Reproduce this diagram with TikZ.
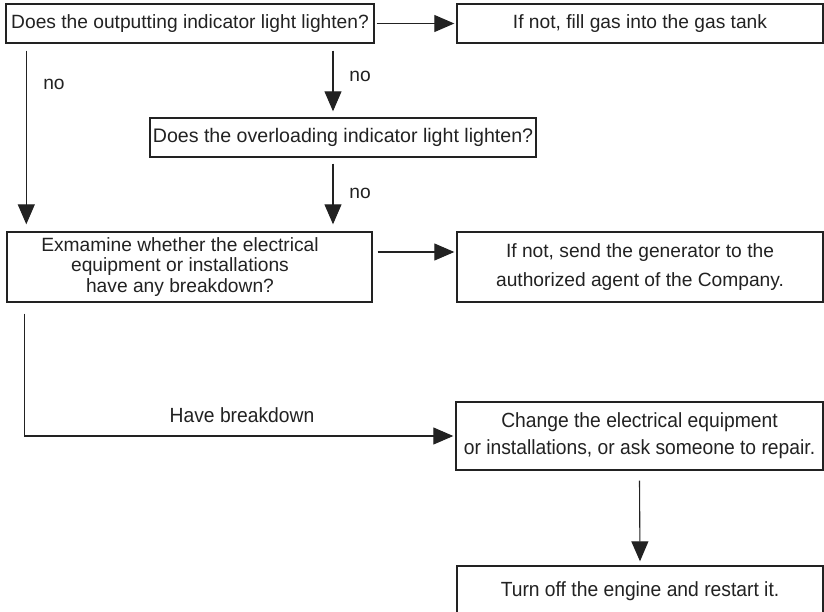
\documentclass[tikz,border=0pt]{standalone}
\usepackage{fontspec}
\setmainfont{Liberation Sans}
\newfontfamily\condfont[FakeStretch=0.94]{Liberation Sans}
\usetikzlibrary{arrows.meta}
\definecolor{ink}{HTML}{222222}
\begin{document}
\begin{tikzpicture}[x=1pt,y=-1pt,
  box/.style={draw=ink,line width=1.4pt,inner sep=0pt,text=ink,align=center,
    font=\fontsize{19.2}{20.5}\selectfont},
  txt/.style={inner sep=0pt,text=ink,align=center,font=\fontsize{19.2}{20.5}\selectfont},
  ctxt/.style={inner sep=0pt,text=ink,align=center,font=\condfont\fontsize{20.5}{27}\selectfont},
  arr/.style={draw=ink,line width=1.1pt,-{Triangle[length=20pt,width=17pt]}}]
\useasboundingbox (0,0) rectangle (824,611);
\fill[white] (0,0) rectangle (824,611);
% boxes
\node[box,minimum width=368pt,minimum height=39pt] (A) at (190,23.5) {Does the outputting indicator light lighten?};
\node[box,minimum width=366pt,minimum height=39pt] (B) at (640,23.5) {If not, fill gas into the gas tank};
\node[box,minimum width=386pt,minimum height=39pt,font=\fontsize{19.6}{20.5}\selectfont] (C) at (343,137.5) {Does the overloading indicator light lighten?};
\node[box,minimum width=365pt,minimum height=70pt] (D) at (189.5,267) {};
\node[txt] (Dt) at (180,267) {Exmamine whether the electrical\\equipment or installations\\have any breakdown?};
\node[box,minimum width=366pt,minimum height=70pt,font=\fontsize{19.2}{29}\selectfont] (E) at (640,267) {If not, send the generator to the\\authorized agent of the Company.};
\node[box,minimum width=367pt,minimum height=68pt,font=\condfont\fontsize{20.5}{27}\selectfont] (F) at (639.5,436) {Change the electrical equipment\\or installations, or ask someone to repair.};
\node[box,minimum width=366pt,minimum height=50pt,font=\condfont\fontsize{20.5}{27}\selectfont] (G) at (640,591) {Turn off the engine and restart it.};
% labels
\node[txt] (no1) at (54,84) {no};
\node[txt] (no2) at (360,76) {no};
\node[txt] (no3) at (360,193) {no};
\node[ctxt] (hb) at (242,415) {Have breakdown};
% connector helper coordinates
\coordinate (mx) at ([xshift=143pt]A.south);
\coordinate (lx) at ([xshift=21pt]A.south west);
% connectors
\draw[arr] ([xshift=2pt]A.east) -- ([xshift=-2pt]B.west);
\draw[arr] ([yshift=-7pt]mx) -- ([yshift=6pt]mx |- C.north);
\draw[arr] ([yshift=-7pt]lx) -- ([yshift=7pt]lx |- D.north);
\draw[arr] ([yshift=-6pt]mx |- C.south) -- ([yshift=7pt]mx |- D.north);
\draw[arr] ([xshift=5pt,yshift=15pt]D.east) -- ([xshift=-2pt,yshift=15pt]E.west);
\draw[arr] ([xshift=18pt,yshift=-11pt]D.south west) |- ([xshift=-2pt]F.west);
\draw[arr] ([yshift=-10pt]F.south) -- ([yshift=4pt]G.north);
\end{tikzpicture}
\end{document}
